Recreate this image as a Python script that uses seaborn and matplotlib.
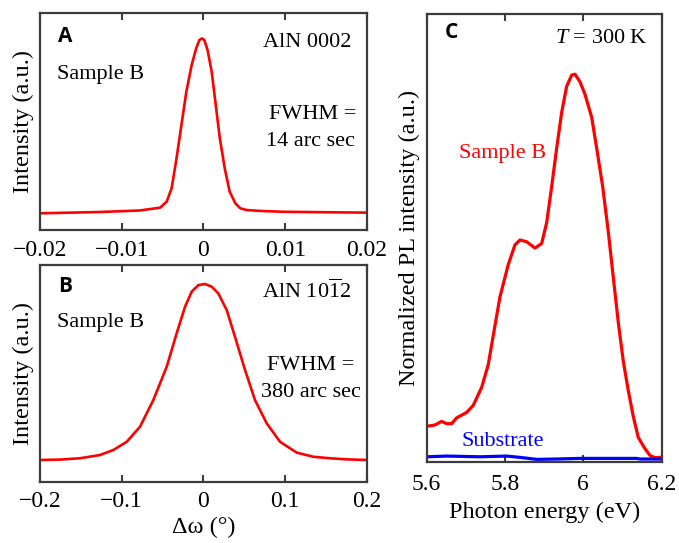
import numpy as np
import pandas as pd
import matplotlib
matplotlib.use("Agg")
import matplotlib.pyplot as plt
import seaborn as sns

# ---- data ----
a_x = [-0.02, -0.0127, -0.0078, -0.0053, -0.0045, -0.0039, -0.0033, -0.0027, -0.0021, -0.00145,
       -0.0009, -0.0005, -0.0002, 0.0001, 0.0005, 0.0010, 0.0015, 0.0020, 0.0026, 0.0032,
       0.0039, 0.0045, 0.0053, 0.0069, 0.0098, 0.02]
a_y = [0.077, 0.083, 0.090, 0.103, 0.131, 0.192, 0.330, 0.484, 0.637, 0.760,
       0.837, 0.876, 0.883, 0.876, 0.829, 0.730, 0.576, 0.422, 0.284, 0.177,
       0.123, 0.100, 0.092, 0.088, 0.084, 0.080]

b_x = [-0.2, -0.175, -0.1511, -0.1266, -0.1103, -0.0939, -0.0777, -0.0614, -0.0450, -0.0328,
       -0.0226, -0.0144, -0.0063, 0.0018, 0.0100, 0.0181, 0.0284, 0.0385, 0.0508, 0.0630,
       0.0773, 0.0936, 0.1140, 0.1343, 0.1547, 0.175, 0.2]
b_y = [0.100, 0.102, 0.108, 0.123, 0.146, 0.184, 0.253, 0.376, 0.530, 0.684,
       0.806, 0.876, 0.906, 0.911, 0.899, 0.868, 0.791, 0.668, 0.515, 0.376,
       0.269, 0.184, 0.134, 0.115, 0.108, 0.103, 0.100]

c_x = [5.6, 5.6212, 5.6383, 5.6511, 5.6638, 5.6766, 5.7021, 5.7190, 5.7404, 5.7573, 5.7700,
       5.7871, 5.8083, 5.8254, 5.8382, 5.8553, 5.8765, 5.8936, 5.9064, 5.9191, 5.9319, 5.9447,
       5.9574, 5.9702, 5.9786, 5.9914, 6.0042, 6.0213, 6.0340, 6.0494, 6.0637, 6.0764, 6.0892,
       6.1020, 6.1147, 6.1275, 6.1403, 6.1574, 6.1701, 6.1829, 6.2]
c_y = [0.079, 0.082, 0.090, 0.085, 0.085, 0.098, 0.110, 0.126, 0.166, 0.217, 0.282,
       0.368, 0.440, 0.484, 0.495, 0.491, 0.477, 0.487, 0.534, 0.614, 0.700, 0.780,
       0.838, 0.863, 0.865, 0.848, 0.820, 0.769, 0.700, 0.614, 0.513, 0.412, 0.311,
       0.224, 0.159, 0.101, 0.054, 0.029, 0.014, 0.009, 0.010]

sub_x = [5.6, 5.651, 5.736, 5.804, 5.838, 5.881, 5.932, 5.991, 6.077, 6.136, 6.145, 6.2]
sub_y = [0.011, 0.0126, 0.011, 0.0126, 0.0097, 0.0052, 0.006, 0.0074, 0.0074, 0.0074, 0.006, 0.006]

a_ticks = [-0.02, -0.01, 0, 0.01, 0.02]
a_ticklabels = ["\u22120.02", "\u22120.01", "0", "0.01", "0.02"]
b_ticks = [-0.2, -0.1, 0, 0.1, 0.2]
b_ticklabels = ["\u22120.2", "\u22120.1", "0", "0.1", "0.2"]
c_ticks = [5.6, 5.8, 6.0, 6.2]
c_ticklabels = ["5.6", "5.8", "6", "6.2"]

sns.set_theme(style="ticks")
plt.rcParams["font.family"] = ["Liberation Serif", "DejaVu Serif"]
plt.rcParams["mathtext.fontset"] = "custom"
plt.rcParams["mathtext.rm"] = "Liberation Serif"
plt.rcParams["mathtext.it"] = "Liberation Serif:italic"
plt.rcParams["mathtext.bf"] = "Liberation Serif:bold"
plt.rcParams["text.color"] = "black"
plt.rcParams["axes.labelcolor"] = "black"

SPINE = "#3c3c3c"
TICK_FS = 17
LABEL_FS = 17.5
ANN_FS = 16
PANEL_FONT = dict(family=["Open Sans", "DejaVu Sans"], weight="bold", size=15, color="black")

fig = plt.figure(figsize=(6.79, 5.43), dpi=100)
axA = fig.add_axes([0.0589, 0.5764, 0.4816, 0.3996])
axB = fig.add_axes([0.0589, 0.1129, 0.4816, 0.3996])
axC = fig.add_axes([0.6284, 0.1497, 0.3461, 0.825])


def style(ax, xlim, ticks, labels, pad=7):
    ax.set_xlim(*xlim)
    ax.set_ylim(0, 1)
    ax.set_yticks([])
    ax.set_xticks(ticks)
    ax.set_xticklabels(labels)
    ax.tick_params(axis="x", direction="in", top=True, bottom=True, length=5,
                   width=1.5, color=SPINE, labelsize=TICK_FS, pad=pad, labelcolor="black")
    for s in ax.spines.values():
        s.set_visible(True)
        s.set_color(SPINE)
        s.set_linewidth(1.6)
    ax.set_xlabel("")
    ax.set_ylabel("")


sns.lineplot(x=a_x, y=a_y, ax=axA, color="#ff0000", linewidth=1.9)
style(axA, (-0.02, 0.02), a_ticks, a_ticklabels)
axA.set_ylabel("Intensity (a.u.)", fontsize=LABEL_FS, labelpad=4)
axA.text(0.055, 0.866, "A", transform=axA.transAxes, va="baseline", ha="left", **PANEL_FONT)
axA.text(0.953, 0.845, "AlN 0002", transform=axA.transAxes, va="baseline", ha="right", fontsize=ANN_FS)
axA.text(0.053, 0.696, "Sample B", transform=axA.transAxes, va="baseline", ha="left", fontsize=ANN_FS)
axA.text(0.966, 0.51, "FWHM =", transform=axA.transAxes, va="baseline", ha="right", fontsize=ANN_FS)
axA.text(0.963, 0.387, "14 arc sec", transform=axA.transAxes, va="baseline", ha="right", fontsize=ANN_FS)

sns.lineplot(x=b_x, y=b_y, ax=axB, color="#ff0000", linewidth=1.9)
style(axB, (-0.2, 0.2), b_ticks, b_ticklabels)
axB.set_ylabel("Intensity (a.u.)", fontsize=LABEL_FS, labelpad=4)
axB.set_xlabel("\u0394\u03c9 (\u00b0)", fontsize=LABEL_FS, labelpad=3)
axB.text(0.055, 0.874, "B", transform=axB.transAxes, va="baseline", ha="left", **PANEL_FONT)
axB.text(0.953, 0.848, r"AlN 10$\overline{\mathrm{1}}$2", transform=axB.transAxes, va="baseline",
         ha="right", fontsize=ANN_FS)
axB.text(0.053, 0.714, "Sample B", transform=axB.transAxes, va="baseline", ha="left", fontsize=ANN_FS)
axB.text(0.96, 0.515, "FWHM =", transform=axB.transAxes, va="baseline", ha="right", fontsize=ANN_FS)
axB.text(0.982, 0.392, "380 arc sec", transform=axB.transAxes, va="baseline", ha="right", fontsize=ANN_FS)

sns.lineplot(x=c_x, y=c_y, ax=axC, color="#ff0000", linewidth=2.3)
sns.lineplot(x=sub_x, y=sub_y, ax=axC, color="#0000ff", linewidth=2.3)
style(axC, (5.6, 6.2), c_ticks, c_ticklabels, pad=9)
axC.set_ylabel("Normalized PL intensity (a.u.)", fontsize=LABEL_FS, labelpad=5)
axC.set_xlabel("Photon energy (eV)", fontsize=LABEL_FS, labelpad=5)
axC.text(0.078, 0.945, "C", transform=axC.transAxes, va="baseline", ha="left", **PANEL_FONT)
axC.text(0.943, 0.934, r"$T$ = 300 K", transform=axC.transAxes, va="baseline", ha="right", fontsize=ANN_FS)
axC.text(0.139, 0.677, "Sample B", transform=axC.transAxes, va="baseline", ha="left",
         fontsize=ANN_FS, color="#ff0000")
axC.text(0.149, 0.035, "Substrate", transform=axC.transAxes, va="baseline", ha="left",
         fontsize=ANN_FS, color="#0000ff")

fig.savefig("out.png", dpi=100)
